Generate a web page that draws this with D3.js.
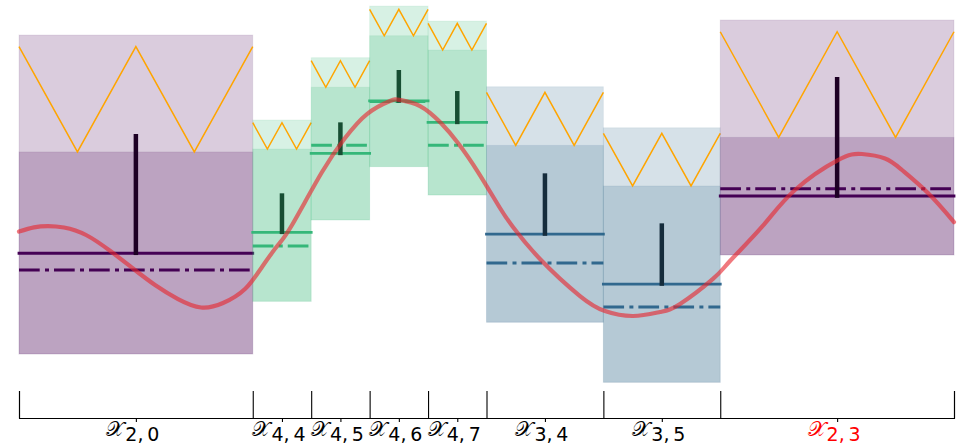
<!DOCTYPE html>
<html>
<head>
<meta charset="utf-8">
<script src="https://cdn.jsdelivr.net/npm/d3@7"></script>
<style>
  html, body { margin: 0; padding: 0; background: #fff; }
  svg { display: block; }
  .lab { font-family: "DejaVu Sans", sans-serif; }
</style>
</head>
<body>
<svg id="chart" width="964" height="445"></svg>
<script>
// Cells of the partition of [0, 1]
const cellNames  = ["2, 0", "4, 4", "4, 5", "4, 6", "4, 7", "3, 4", "3, 5", "2, 3"];
const cellLevel  = [2, 4, 4, 4, 4, 3, 3, 2];
const cellStart  = [0, 0.25, 0.3125, 0.375, 0.4375, 0.5, 0.625, 0.75];
const cellEnd    = [0.25, 0.3125, 0.375, 0.4375, 0.5, 0.625, 0.75, 1];
const highlighted = ["2, 3"];

// Per-cell bounds and statistics
const upperBound = [1.602, 0.815, 1.392, 1.870, 1.731, 1.123, 0.743, 1.741];
const zigTop     = [1.494, 0.790, 1.364, 1.840, 1.710, 1.071, 0.692, 1.632];
const splitValue = [0.519, 0.546, 1.118, 1.595, 1.463, 0.580, 0.204, 0.654];
const lowerBound = [-1.352, -0.864, -0.111, 0.383, 0.120, -1.058, -1.614, -0.435];
const meanValue  = [-0.419, -0.225, 0.506, 0.991, 0.793, -0.241, -0.704, 0.111];
const altValue   = [-0.574, -0.352, 0.580, 0.985, 0.580, -0.509, -0.917, 0.178];
const barTop     = [0.685, 0.136, 0.793, 1.278, 1.083, 0.321, -0.142, 1.213];

// Target function samples
const fx = [0, 0.0160, 0.0310, 0.0481, 0.0717, 0.0984, 0.1219, 0.1455, 0.1701, 0.1947,
            0.2182, 0.2417, 0.2599, 0.2770, 0.2920, 0.3241, 0.3487, 0.3722, 0.3968, 0.4075,
            0.4289, 0.4513, 0.4695, 0.4909, 0.5144, 0.5283, 0.5572, 0.6, 0.6267, 0.6567,
            0.6856, 0.7070, 0.7422, 0.7604, 0.7947, 0.8299, 0.8759, 0.9016, 0.9262, 0.9444,
            0.9722, 1.0];
const fy = [-0.218, -0.179, -0.167, -0.181, -0.250, -0.403, -0.560, -0.713, -0.843, -0.921,
            -0.880, -0.750, -0.546, -0.343, -0.157, 0.333, 0.648, 0.870, 0.991, 1.0,
            0.944, 0.787, 0.602, 0.333, 0.0, -0.176, -0.472, -0.815, -0.954, -1.0,
            -0.963, -0.889, -0.657, -0.491, -0.173, 0.167, 0.444, 0.5, 0.458, 0.352,
            0.139, -0.130];

const levelColor = { 2: "#440154", 3: "#31688e", 4: "#35b779" };

const svg = d3.select("#chart");
const x = d3.scaleLinear().domain([0, 1]).range([19, 954]);
const y = d3.scaleLinear().domain([-1, 1]).range([316, 100]);

const cells = cellNames.map((name, i) => ({
  name, level: cellLevel[i], x0: cellStart[i], x1: cellEnd[i],
  hi: upperBound[i], zig: zigTop[i], mid: splitValue[i], lo: lowerBound[i],
  mean: meanValue[i], alt: altValue[i], bar: barTop[i]
}));

const gCells = svg.append("g");
cells.forEach(c => {
  const col = levelColor[c.level];
  const g = gCells.append("g");
  // outer band
  g.append("rect")
    .attr("x", x(c.x0)).attr("width", x(c.x1) - x(c.x0))
    .attr("y", y(c.hi)).attr("height", y(c.lo) - y(c.hi))
    .attr("fill", col).attr("fill-opacity", 0.2)
    .attr("stroke", col).attr("stroke-opacity", 0.08).attr("stroke-width", 1);
  // inner band
  g.append("rect")
    .attr("x", x(c.x0)).attr("width", x(c.x1) - x(c.x0))
    .attr("y", y(c.mid)).attr("height", y(c.lo) - y(c.mid))
    .attr("fill", col).attr("fill-opacity", 0.2)
    .attr("stroke", col).attr("stroke-opacity", 0.08).attr("stroke-width", 1);
  // zigzag between split value and its top
  const w = c.x1 - c.x0;
  const zz = [[c.x0, c.zig], [c.x0 + w / 4, c.mid], [c.x0 + w / 2, c.zig],
              [c.x0 + 3 * w / 4, c.mid], [c.x1, c.zig]];
  g.append("path")
    .attr("d", d3.line().x(d => x(d[0])).y(d => y(d[1]))(zz))
    .attr("fill", "none").attr("stroke", "#ffa500").attr("stroke-width", 1.5);
  // alternative estimate (dash-dot)
  g.append("line")
    .attr("x1", x(c.x0)).attr("x2", x(c.x1))
    .attr("y1", y(c.alt)).attr("y2", y(c.alt))
    .attr("stroke", col).attr("stroke-width", 3)
    .attr("stroke-dasharray", "20.7,5.3,4,5");
  // mean
  g.append("line")
    .attr("x1", x(c.x0)).attr("x2", x(c.x1))
    .attr("y1", y(c.mean)).attr("y2", y(c.mean))
    .attr("stroke", col).attr("stroke-width", 2.8)
    .attr("stroke-linecap", "square");
  // bar from mean up to barTop
  const xm = x((c.x0 + c.x1) / 2);
  g.append("line")
    .attr("x1", xm).attr("x2", xm)
    .attr("y1", y(c.mean) + 1.8).attr("y2", y(c.bar))
    .attr("stroke", d3.color(col).darker(2.4)).attr("stroke-width", 4.5);
});

// target function
svg.append("path")
  .datum(fx.map((v, i) => [v, fy[i]]))
  .attr("d", d3.line().x(d => x(d[0])).y(d => y(d[1])).curve(d3.curveNatural))
  .attr("fill", "none").attr("stroke", "#e6262e").attr("stroke-opacity", 0.62)
  .attr("stroke-width", 4.2).attr("stroke-linecap", "round");

// axis: cell boundaries (inward ticks) and cell centres (labels)
const boundaries = Array.from(new Set(cellStart.concat(cellEnd))).sort((a, b) => a - b);
const centres = cells.map(c => (c.x0 + c.x1) / 2);
const axisY = 418;

const ax1 = svg.append("g").attr("transform", `translate(0,${axisY})`)
  .call(d3.axisBottom(x).tickValues(boundaries).tickSize(-27).tickSizeOuter(-27).tickFormat(""));
ax1.selectAll("line, path").attr("stroke", "#000").attr("stroke-width", 1.1);

const ax2 = svg.append("g").attr("transform", `translate(0,${axisY})`)
  .call(d3.axisBottom(x).tickValues(centres).tickSize(4).tickFormat(""));
ax2.select(".domain").remove();
ax2.selectAll("line").attr("stroke", "#000").attr("stroke-width", 1.1);

const labG = svg.append("g");
cells.forEach(c => {
  const t = labG.append("text").attr("class", "lab")
    .attr("x", x((c.x0 + c.x1) / 2) - 3).attr("y", 436)
    .attr("text-anchor", "middle")
    .attr("fill", highlighted.includes(c.name) ? "#ff0000" : "#000");
  t.append("tspan").attr("font-size", 21).text("\u{1D4B3}");
  t.append("tspan").attr("font-size", 19).attr("dy", 5).attr("dx", 1)
    .text(c.name.replace(" ", "\u2009"));
});
</script>
</body>
</html>
